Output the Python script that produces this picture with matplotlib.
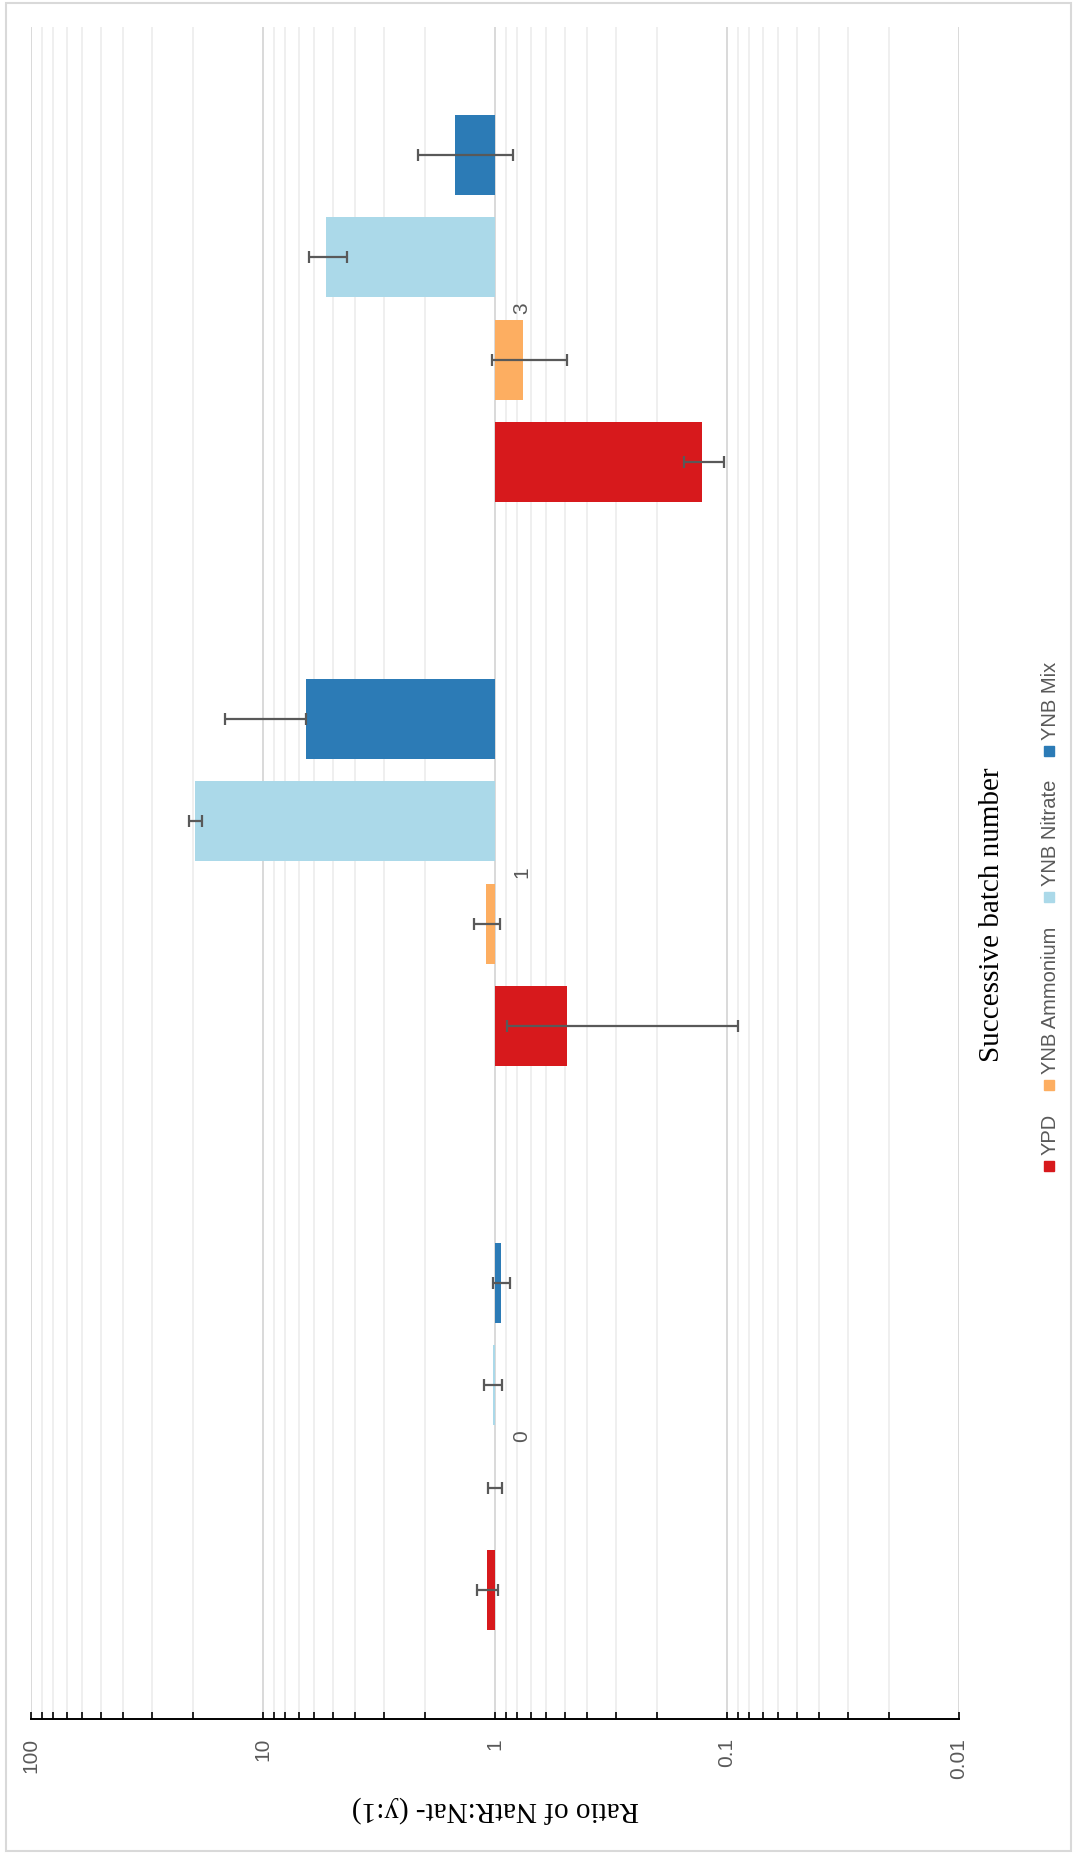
import numpy as np
import matplotlib
matplotlib.use('Agg')
import matplotlib.pyplot as plt
from matplotlib.patches import Rectangle
from matplotlib.ticker import LogLocator, NullFormatter

# ---------------------------- data ----------------------------------
batches = ['0', '1', '3']
media = ['YPD', 'YNB Ammonium', 'YNB Nitrate', 'YNB Mix']
colours = ['#D7191C', '#FDAE61', '#ABD9E9', '#2C7BB6']

# NatR:Nat- ratio per batch
ypd = [1.08, 0.49, 0.128]
ammonium = [1.0, 1.09, 0.757]
nitrate = [1.02, 19.6, 5.35]
mix = [0.94, 6.53, 1.49]

# error bars as [lower], [upper]
ypd_err = [[0.11, 0.40, 0.025], [0.11, 0.40, 0.025]]
ammonium_err = [[0.07, 0.14, 0.27], [0.07, 0.14, 0.27]]
nitrate_err = [[0.09, 1.2, 1.0], [0.09, 1.2, 1.0]]
mix_err = [[0.08, 0.0, 0.65], [0.08, 8.05, 0.65]]

ticks = [100, 10, 1, 0.1, 0.01]
tick_labels = ['100', '10', '1', '0.1', '0.01']

# ---------------------------- figure --------------------------------
W, H = 1073, 1854
fig = plt.figure(figsize=(W / 100, H / 100), dpi=100)
ax = fig.add_axes([31 / W, (H - 1718.5) / H, 928 / W, (1718.5 - 26.7) / H])

grey = '#595959'
bar_h = 0.142
step = 0.1817
series = [ypd, ammonium, nitrate, mix]
errors = [ypd_err, ammonium_err, nitrate_err, mix_err]

for i in range(len(media)):
    vals = np.array(series[i])
    pos = np.arange(len(batches)) + (i - 1.5) * step
    # bars hang off the value-1 line, like the log axis crossing at 1
    ax.barh(pos, vals - 1, left=1, height=bar_h, color=colours[i], zorder=2)
    ax.errorbar(vals, pos, xerr=errors[i], fmt='none', ecolor=grey,
                elinewidth=1.6, capsize=4, capthick=1.6, zorder=3)

ax.set_xscale('log')
ax.set_xlim(100, 0.01)
ax.set_ylim(-0.5, len(batches) - 0.5)

ax.set_axisbelow(True)
ax.grid(True, which='major', axis='x', color='#d9d9d9', lw=1.4)
ax.grid(True, which='minor', axis='x', color='#ececec', lw=1.2)
for s in ['top', 'left', 'right']:
    ax.spines[s].set_visible(False)
ax.spines['bottom'].set_color('black')
ax.spines['bottom'].set_linewidth(1.4)

ax.set_yticks([])
ax.set_xticks(ticks)
ax.set_xticklabels(tick_labels, rotation=90, fontsize=15, color=grey,
                   family='Liberation Sans')
ax.xaxis.set_minor_locator(LogLocator(base=10, subs=np.arange(2, 10)))
ax.xaxis.set_minor_formatter(NullFormatter())
ax.tick_params(axis='x', which='both', direction='in', length=5, width=1.2,
               color='black', pad=14)

# batch labels sit beside the 1 line
for k, b in enumerate(batches):
    ax.annotate(b, xy=(1, k), xytext=(27, 0), textcoords='offset pixels',
                rotation=90, ha='center', va='center', fontsize=15,
                color=grey, family='Liberation Sans')

fig.text(495 / W, 1 - 1809 / H, 'Ratio of NatR:Nat- (y:1)', rotation=180,
         ha='center', va='center', fontsize=21, family='Liberation Serif')
fig.text(992 / W, 1 - 915 / H, 'Successive batch number', rotation=90,
         ha='center', va='center', fontsize=21, family='Liberation Serif')

# legend, stacked bottom to top
fig.canvas.draw()
renderer = fig.canvas.get_renderer()
y = 1171
lx = 1049
for name, c in zip(media, colours):
    fig.add_artist(Rectangle(((lx - 5) / W, 1 - y / H), 10 / W, 10 / H,
                             transform=fig.transFigure, color=c))
    y -= 10 + 6
    t = fig.text((lx + 1) / W, 1 - y / H, name, rotation=90, ha='center',
                 va='bottom', fontsize=14.5, color=grey,
                 family='Liberation Sans')
    h = t.get_window_extent(renderer).height
    y -= h + 24

fig.add_artist(Rectangle((6 / W, 3 / H), 1065 / W, 1848 / H,
                         transform=fig.transFigure, fill=False,
                         ec='#d9d9d9', lw=1.5))

fig.savefig('out.png', dpi=100)
